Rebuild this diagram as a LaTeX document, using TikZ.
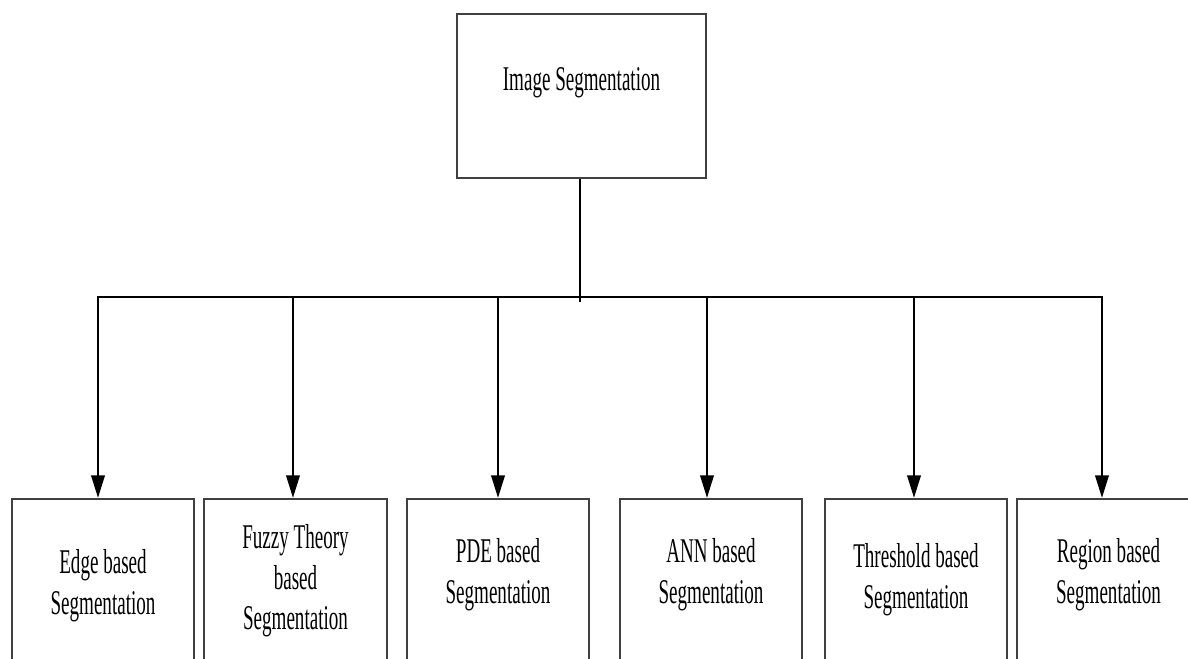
\documentclass[tikz,border=0pt]{standalone}
\usepackage{fontspec}
\setmainfont{Liberation Serif}[FakeStretch=0.55]
\usetikzlibrary{positioning}
\usetikzlibrary{arrows.meta}

\begin{document}
\begin{tikzpicture}[
			x=0.75pt, y=-0.75pt,
			box/.style={draw=black!75, line width=1.5pt, inner sep=0pt},
			method/.style={box, anchor=north, minimum width=137pt, minimum height=165pt},
			boxtext/.style={font=\fontsize{26}{30.4}\selectfont, align=center, inner sep=0pt},
			link/.style={line width=2pt},
			downarrow/.style={link, -{Triangle[length=17pt, width=10pt]}},
			]
			\useasboundingbox (0,0) rectangle (1188,659);
			\clip (0,0) rectangle (1188,659);

			% root box
			\node[box, minimum width=186.75pt, minimum height=123pt] (seg) at (581.5,96) {};
			\node[boxtext, below=40.5pt of seg.north] (segtext) {Image Segmentation};

			% the six methods
			\node[method] (edge) at (103,498) {};
			\node[method] (fuzzy) at (295.5,498) {};
			\node[method] (pde) at (498,498) {};
			\node[method] (ann) at (711,498) {};
			\node[method] (thresh) at (916,498) {};
			\node[method] (region) at (1108.5,498) {};

			\node[boxtext, below=38.6pt of edge.north] (edgetext) {Edge based\\Segmentation};
			\node[boxtext, below=19.9pt of fuzzy.north] (fuzzytext) {Fuzzy Theory\\based\\Segmentation};
			\node[boxtext, below=30.4pt of pde.north] (pdetext) {PDE based\\Segmentation};
			\node[boxtext, below=30.4pt of ann.north] (anntext) {ANN based\\Segmentation};
			\node[boxtext, below=34.1pt of thresh.north] (threshtext) {Threshold based\\Segmentation};
			\node[boxtext, below=30.4pt of region.north] (regiontext) {Region based\\Segmentation};

			% bus and arrows
			\coordinate (bus) at (580,297);
			\draw[link] (bus |- seg.south) -- ([yshift=-4pt]bus);
			\foreach \b/\dx in {edge/-3.75, fuzzy/-1.9, pde/0, ann/-3, thresh/-1.5, region/-4.9}{
				\coordinate (\b-in) at ([xshift=\dx pt]\b.north);
				\draw[downarrow] (\b-in |- bus) -- (\b-in);
			}
			\draw[link, line cap=rect] (edge-in |- bus) -- (region-in |- bus);
		\end{tikzpicture}
\end{document}
